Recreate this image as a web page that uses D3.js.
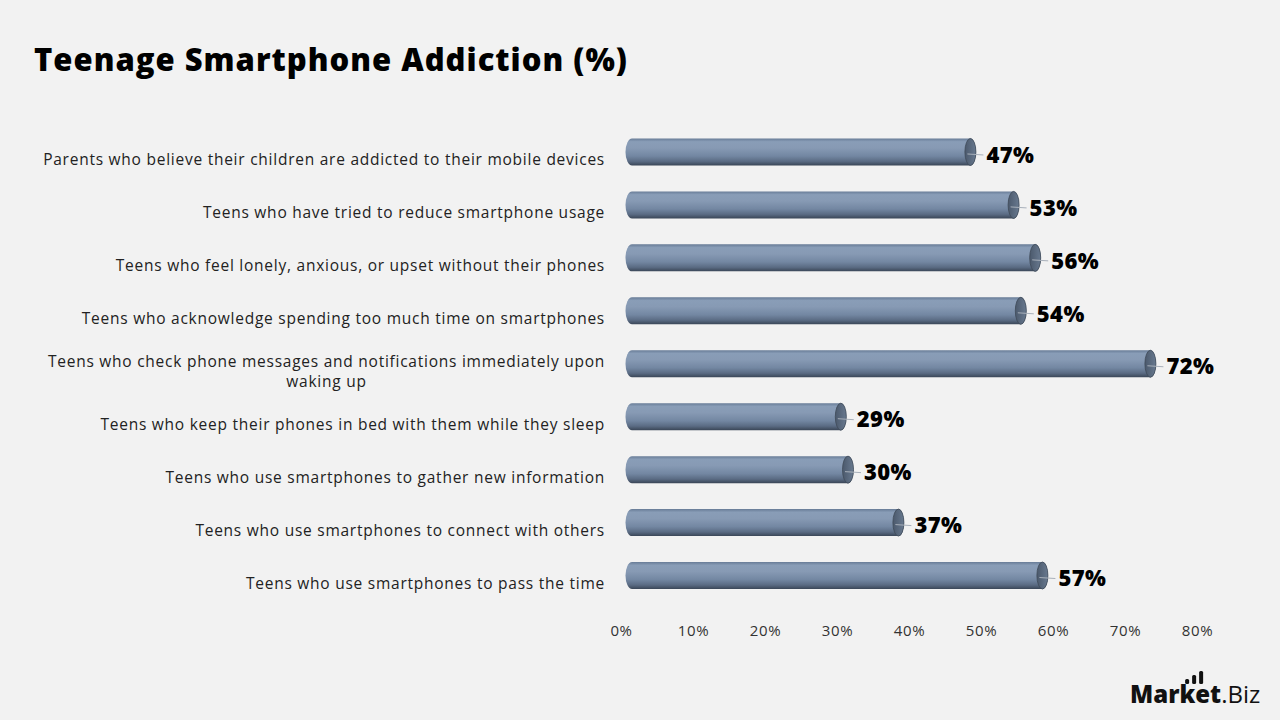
<!DOCTYPE html>
<html><head><meta charset="utf-8">
<script src="https://cdn.jsdelivr.net/npm/d3@7"></script>
<style>
html,body{margin:0;padding:0;background:#f2f2f2;}
svg{display:block;}
</style></head>
<body>
<svg id="chart" width="1280" height="720"></svg>
<script>
const categories = [
  "Parents who believe their children are addicted to their mobile devices",
  "Teens who have tried to reduce smartphone usage",
  "Teens who feel lonely, anxious, or upset without their phones",
  "Teens who acknowledge spending too much time on smartphones",
  "Teens who check phone messages and notifications immediately upon waking up",
  "Teens who keep their phones in bed with them while they sleep",
  "Teens who use smartphones to gather new information",
  "Teens who use smartphones to connect with others",
  "Teens who use smartphones to pass the time"
];
const values = [47, 53, 56, 54, 72, 29, 30, 37, 57];
const tickValues = [0, 10, 20, 30, 40, 50, 60, 70, 80];
const title = "Teenage Smartphone Addiction (%)";

const FONT = "'Open Sans', 'Noto Sans', sans-serif";
const svg = d3.select("#chart");

svg.append("rect").attr("width",1280).attr("height",720).attr("fill","#f2f2f2");

svg.append("text").attr("x",34).attr("y",71)
  .attr("font-family",FONT).attr("font-weight",800).attr("font-size",31)
  .attr("letter-spacing",1.0)
  .attr("fill","#000").text(title);

const x = d3.scaleLinear().domain([0,80]).range([621,1197]);
const y = d3.scaleBand().domain(categories).range([133.5,610]).paddingInner(0.49).paddingOuter(0.245);

const defs = svg.append("defs");
const grad = defs.append("linearGradient").attr("id","barGrad").attr("x1",0).attr("x2",0).attr("y1",0).attr("y2",1);
[[0,"#687c97"],[0.12,"#899db7"],[0.35,"#879ab4"],[0.65,"#7387a2"],[0.85,"#5a6b83"],[1,"#3a4657"]]
  .forEach(([o,c])=>grad.append("stop").attr("offset",o).attr("stop-color",c));
const capGrad = defs.append("linearGradient").attr("id","capGrad").attr("x1",0).attr("x2",1).attr("y1",0).attr("y2",0);
[[0,"#4b596c"],[1,"#68798f"]].forEach(([o,c])=>capGrad.append("stop").attr("offset",o).attr("stop-color",c));

const dx = 11, dy = -8, barH = 27, rx = 5.5;

const rows = svg.append("g").selectAll("g").data(categories).join("g");

rows.each(function(cat, i){
  const g = d3.select(this);
  const v = values[i];
  const cy = y(cat) + y.bandwidth()/2 + dy;
  const x0 = x(0) + dx, x1 = x(v) + dx;
  const top = cy - barH/2, bot = cy + barH/2;
  const path = `M${x0},${top} L${x1},${top} A${rx},${barH/2} 0 0 1 ${x1},${bot} L${x0},${bot} A${rx+1},${barH/2} 0 0 1 ${x0},${top} Z`;
  g.append("path").attr("d",path).attr("fill","url(#barGrad)");
  g.append("ellipse").attr("cx",x1).attr("cy",cy).attr("rx",rx).attr("ry",barH/2)
    .attr("fill","url(#capGrad)").attr("stroke","#3f4a58").attr("stroke-width",0.8);
  const lx = x(v) + 27;
  const ly = cy + 3;
  g.append("line").attr("x1",x1-3).attr("y1",cy+2).attr("x2",lx-3).attr("y2",ly)
    .attr("stroke","#a8b0ba").attr("stroke-width",1);
  g.append("text").attr("x",lx).attr("y",ly).attr("dy","0.35em")
    .attr("font-family",FONT).attr("font-weight",800).attr("font-size",22).attr("letter-spacing",0.4)
    .attr("fill","#000").text(v + "%");
});

const labelX = 605, maxW = 575;
rows.each(function(cat){
    const cyc = y(cat) + y.bandwidth()/2;
    const g = d3.select(this);
    const probe = g.append("text").attr("font-family",FONT).attr("font-size",15.5).attr("letter-spacing",0.75);
    const words = cat.split(" ");
    let lines = [], line = [];
    words.forEach(w=>{
      line.push(w);
      probe.text(line.join(" "));
      if (probe.node().getComputedTextLength() > maxW && line.length>1){
        line.pop(); lines.push(line.join(" ")); line=[w];
      }
    });
    lines.push(line.join(" "));
    const widths = lines.map(l=>{ probe.text(l); return probe.node().getComputedTextLength(); });
    probe.remove();
    const W = d3.max(widths);
    const lh = 19.5;
    lines.forEach((ln,k)=>{
      g.append("text")
        .attr("font-family",FONT).attr("font-size",15.5).attr("fill","#222")
        .attr("letter-spacing",0.75)
        .attr("text-anchor", lines.length>1 ? "middle" : "end")
        .attr("x", lines.length>1 ? labelX - W/2 : labelX)
        .attr("y", cyc + (k - (lines.length-1)/2)*lh).attr("dy","0.35em").text(ln);
    });
  });

const axis = d3.axisBottom(x).tickValues(tickValues).tickFormat(d=>d+"%").tickSize(0).tickPadding(0);
const ag = svg.append("g").attr("transform","translate(0,625)").call(axis);
ag.select(".domain").remove();
ag.selectAll("text").attr("font-family",FONT).attr("font-size",15).attr("letter-spacing",0.6).attr("fill","#333").attr("dy","0.35em").attr("y",6);

// logo
const logo = svg.append("g").attr("transform","translate(1130,703)");
const m = logo.append("text").attr("x",0).attr("y",0).attr("font-family",FONT).attr("font-weight",800)
  .attr("font-size",24).attr("fill","#111").text("Market");
const mw = m.node().getComputedTextLength();
logo.append("text").attr("x",mw).attr("y",0).attr("font-family",FONT).attr("font-weight",400)
  .attr("font-size",24).attr("fill","#111").text(".Biz");
const barsL = [[mw-36,5],[mw-29,9],[mw-22,13]];
barsL.forEach(([bx,h])=>logo.append("rect").attr("x",bx).attr("y",-19-h).attr("width",4).attr("height",h).attr("rx",1.5).attr("fill","#111"));
</script>
</body></html>
